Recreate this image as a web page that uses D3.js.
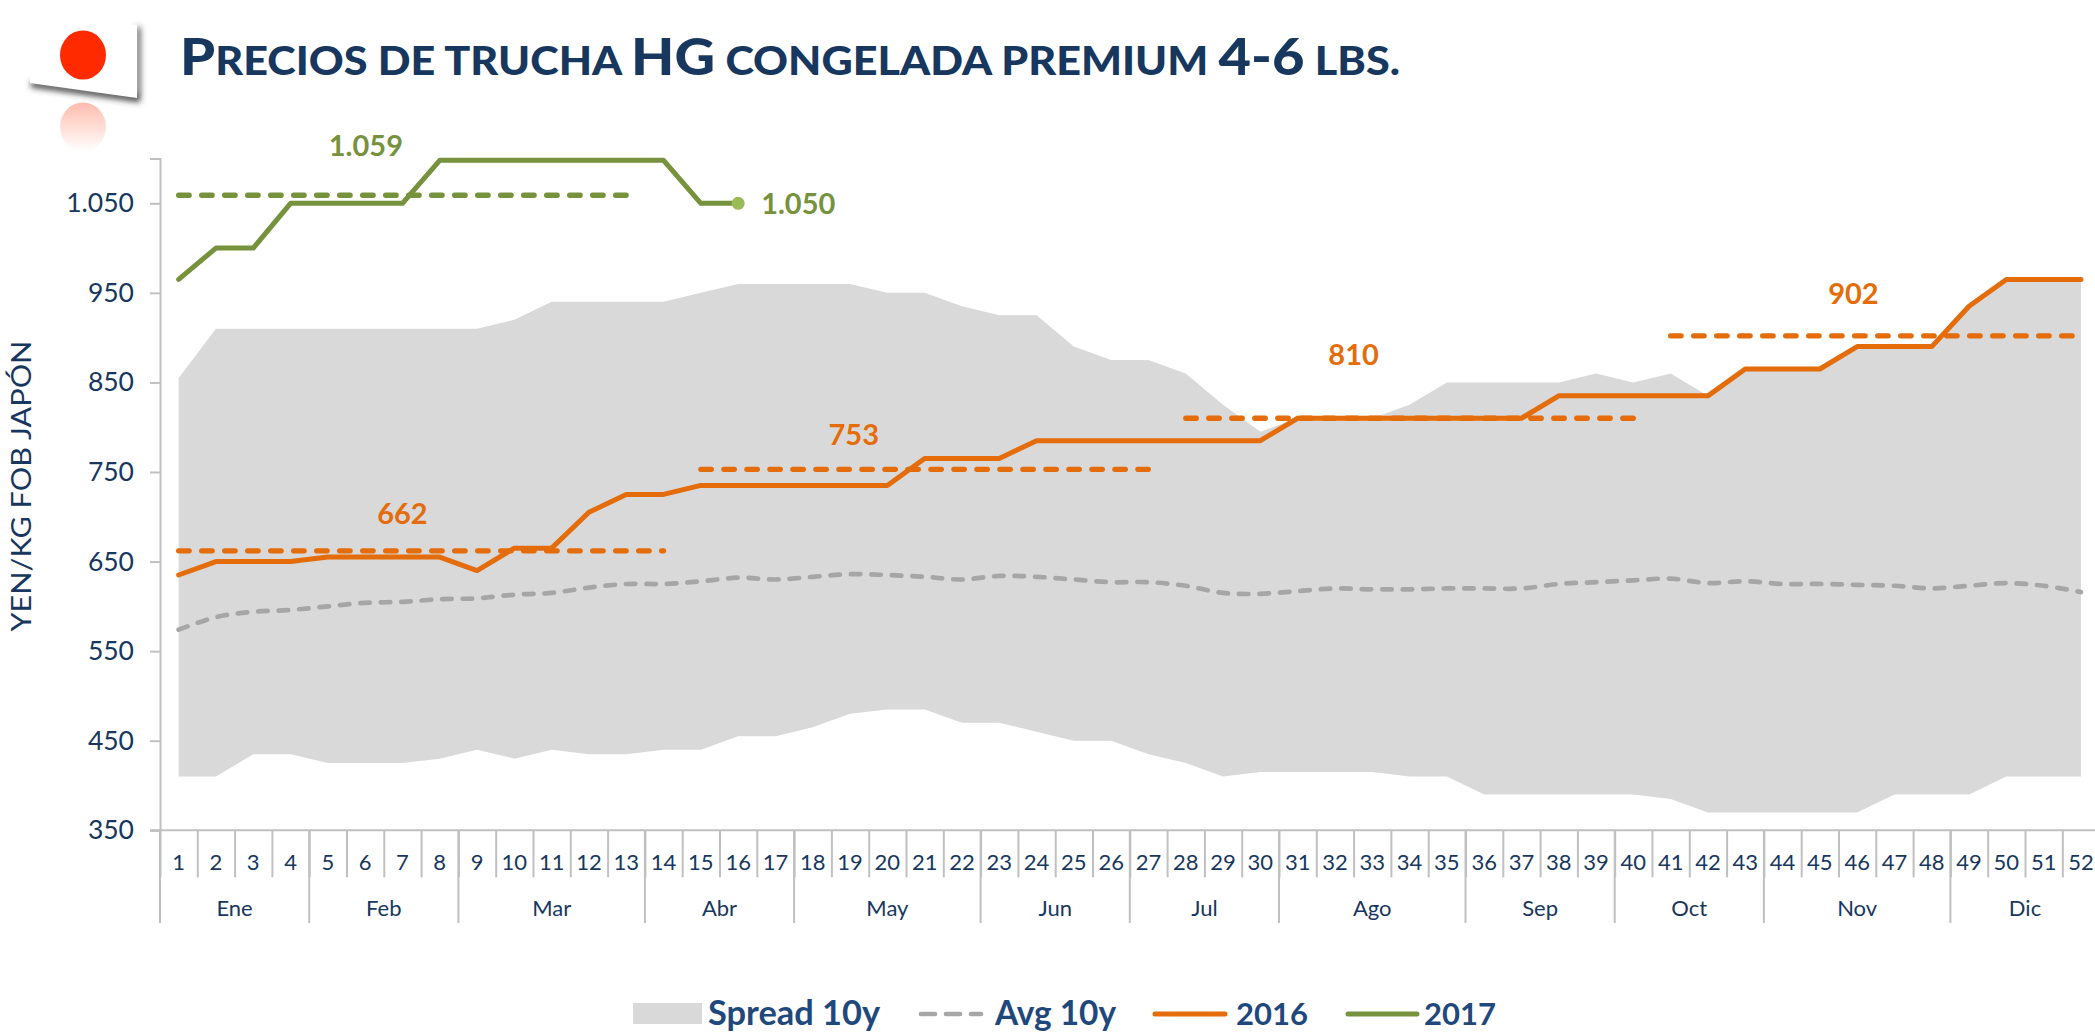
<!DOCTYPE html>
<html>
<head>
<meta charset="utf-8">
<script src="https://cdn.jsdelivr.net/npm/d3@7"></script>
<style>
  body { margin: 0; background: #fff; }
  svg { display: block; font-family: Lato, "Open Sans", sans-serif; }
  .domain, .tick line { stroke: #c0c0c0; stroke-width: 2; }
  .tick text { fill: #17375e; }
</style>
</head>
<body>
<svg id="chart" width="2095" height="1032"></svg>
<script>
// weeks and months
var weeks = d3.range(1, 53);
var months = ["Ene", "Feb", "Mar", "Abr", "May", "Jun", "Jul", "Ago", "Sep", "Oct", "Nov", "Dic"];
var monthWeeks = [4, 4, 5, 4, 5, 4, 4, 5, 4, 4, 5, 4];
var yTicks = [350, 450, 550, 650, 750, 850, 950, 1050];

// values
var spreadHigh = [855, 910, 910, 910, 910, 910, 910, 910, 910, 920, 940, 940, 940,
    940, 950, 960, 960, 960, 960, 950, 950, 935, 925, 925, 890, 875,
    875, 860, 825, 795, 810, 810, 810, 825, 850, 850, 850, 850, 860,
    850, 860, 835, 865, 865, 865, 890, 890, 890, 935, 965, 965, 965];
var spreadLow = [410, 410, 435, 435, 425, 425, 425, 430, 440, 430, 440, 435, 435,
    440, 440, 455, 455, 465, 480, 485, 485, 470, 470, 460, 450, 450,
    435, 425, 410, 415, 415, 415, 415, 410, 410, 390, 390, 390, 390,
    390, 385, 370, 370, 370, 370, 370, 390, 390, 390, 410, 410, 410];
var avg10y = [574, 588, 594, 596, 600, 604, 605, 608, 609, 613, 615, 621, 625,
    625, 628, 632, 630, 633, 636, 635, 633, 630, 634, 633, 630, 627,
    627, 623, 615, 614, 617, 620, 619, 619, 620, 620, 620, 625, 627,
    629, 631, 626, 628, 625, 625, 624, 623, 620, 623, 626, 623, 616];
var y2016 = [635, 650, 650, 650, 655, 655, 655, 655, 640, 665, 665, 705, 725,
    725, 735, 735, 735, 735, 735, 735, 765, 765, 765, 785, 785, 785,
    785, 785, 785, 785, 810, 810, 810, 810, 810, 810, 810, 835, 835,
    835, 835, 835, 865, 865, 865, 890, 890, 890, 935, 965, 965, 965];
var y2017 = [965, 1000, 1000, 1050, 1050, 1050, 1050, 1098, 1098, 1098, 1098, 1098, 1098, 1098, 1050, 1050];

// period averages: first week, last week, value
var avg2016 = [[1, 14, 662], [15, 27, 753], [28, 40, 810], [41, 52, 902]];
var avg2017 = [[1, 13, 1059]];

var titleParts = ["P", "RECIOS DE TRUCHA ", "HG", " CONGELADA PREMIUM ", "4-6", " LBS."];

var svg = d3.select("#chart");
var orange = "#e46c0a", green = "#76923c", navy = "#17375e", legendBlue = "#1f497d";

// edge scale is for the tick marks between the weeks, x puts points mid-week
var xEdge = d3.scaleLinear().domain([0, 52]).range([160, 2099.6]);
var x = function (w) { return xEdge(w - 0.5); };
var y = d3.scaleLinear().domain([350, 1100]).range([830.3, 158.5]);
var es = d3.formatLocale({ decimal: ",", thousands: ".", grouping: [3], currency: ["", ""] });
var fmt = es.format(",");

drawFlag();

// title, small caps done by hand so the small letters can be taller
var title = svg.append("text")
    .attr("x", 180).attr("y", 75)
    .attr("fill", navy)
    .attr("textLength", 1220).attr("lengthAdjust", "spacingAndGlyphs")
    .style("font-weight", 900)
    .style("white-space", "pre");
title.selectAll("tspan")
    .data(titleParts).enter().append("tspan")
    .style("font-size", function (d, i) { return i % 2 == 0 ? "52px" : "40px"; })
    .text(function (d) { return d; });

// spread band
var area = d3.area()
    .x(function (d) { return x(d); })
    .y0(function (d) { return y(spreadLow[d - 1]); })
    .y1(function (d) { return y(spreadHigh[d - 1]); });
svg.append("path").datum(weeks).attr("d", area).attr("fill", "#d9d9d9");

// axes
var yAxis = d3.axisLeft(y).tickValues(yTicks).tickSize(10).tickPadding(16).tickFormat(fmt);
var yG = svg.append("g").attr("transform", "translate(160,0)").call(yAxis);
yG.attr("font-family", null);
yG.selectAll("text").style("font-size", "26.5px");

var xAxis = d3.axisBottom(xEdge).tickValues(d3.range(0, 53)).tickSize(47).tickFormat("");
var xG = svg.append("g").attr("transform", "translate(0,830.3)").call(xAxis);
xG.select(".domain").attr("d", "M150,0H2095");

svg.append("g").selectAll("text")
    .data(weeks).enter().append("text")
    .attr("x", function (d) { return x(d); })
    .attr("y", 862)
    .attr("dy", ".35em")
    .attr("text-anchor", "middle")
    .attr("fill", navy)
    .style("font-size", "22px")
    .text(function (d) { return d; });

// month separators go lower than the week ones
var monthStarts = [0];
monthWeeks.forEach(function (n, i) { monthStarts.push(monthStarts[i] + n); });
svg.append("g").selectAll("line")
    .data(monthStarts.slice(0, 12)).enter().append("line")
    .attr("x1", function (d) { return xEdge(d); })
    .attr("x2", function (d) { return xEdge(d); })
    .attr("y1", 830).attr("y2", 923)
    .attr("stroke", "#c0c0c0").attr("stroke-width", 2);
svg.append("g").selectAll("text")
    .data(months).enter().append("text")
    .attr("x", function (d, i) { return xEdge(monthStarts[i] + monthWeeks[i] / 2); })
    .attr("y", 908)
    .attr("dy", ".35em")
    .attr("text-anchor", "middle")
    .attr("fill", navy)
    .style("font-size", "22px")
    .text(function (d) { return d; });

// axis title
svg.append("text")
    .attr("transform", "translate(31,486) rotate(-90)")
    .attr("text-anchor", "middle")
    .attr("fill", navy)
    .attr("textLength", 291).attr("lengthAdjust", "spacingAndGlyphs")
    .style("font-size", "27px")
    .text("YEN/KG FOB JAPÓN");

// avg 10y
var line = d3.line().x(function (d, i) { return x(i + 1); }).y(function (d) { return y(d); });
svg.append("path").datum(avg10y)
    .attr("d", line.curve(d3.curveCatmullRom.alpha(0.5)))
    .attr("fill", "none").attr("stroke", "#a6a6a6").attr("stroke-width", 4.7)
    .attr("stroke-linecap", "round").attr("stroke-dasharray", "9.5 11");
line.curve(d3.curveLinear);

// period averages
function drawAverages(rows, color) {
    svg.append("g").selectAll("line")
        .data(rows).enter().append("line")
        .attr("x1", function (d) { return x(d[0]); })
        .attr("x2", function (d) { return x(d[1]); })
        .attr("y1", function (d) { return y(d[2]); })
        .attr("y2", function (d) { return y(d[2]); })
        .attr("stroke", color).attr("stroke-width", 5.3)
        .attr("stroke-linecap", "round").attr("stroke-dasharray", "10.5 12.5");
}
drawAverages(avg2016, orange);
drawAverages(avg2017, green);

// the two years
[[y2016, orange], [y2017, green]].forEach(function (s) {
    svg.append("path").datum(s[0])
        .attr("d", line)
        .attr("fill", "none").attr("stroke", s[1]).attr("stroke-width", 5)
        .attr("stroke-linecap", "round").attr("stroke-linejoin", "round");
});
svg.append("circle")
    .attr("cx", x(y2017.length)).attr("cy", y(y2017[y2017.length - 1]))
    .attr("r", 6.5).attr("fill", "#9bbb59");

// value labels, placed a bit above their dashed lines
var labelWeeks = [7, 19.1, 32.5, 45.9, 6.02];
var labelRows = avg2016.concat(avg2017);
var labelLift = [37, 34, 63, 42, 49];
var labelColors = [orange, orange, orange, orange, green];
svg.append("g").selectAll("text")
    .data(labelRows).enter().append("text")
    .attr("x", function (d, i) { return x(labelWeeks[i]); })
    .attr("y", function (d, i) { return y(d[2]) - labelLift[i]; })
    .attr("dy", ".35em")
    .attr("text-anchor", "middle")
    .attr("fill", function (d, i) { return labelColors[i]; })
    .style("font-size", "29px").style("font-weight", 700)
    .text(function (d) { return fmt(d[2]); });
svg.append("text")
    .attr("x", x(y2017.length) + 23).attr("y", y(y2017[y2017.length - 1]) + 1)
    .attr("dy", ".35em")
    .attr("fill", green)
    .style("font-size", "29px").style("font-weight", 700)
    .text(fmt(y2017[y2017.length - 1]));

// legend
var legend = svg.append("g").attr("fill", legendBlue).style("font-weight", 700);
legend.append("rect").attr("x", 633).attr("y", 1003).attr("width", 69).attr("height", 21).attr("fill", "#d9d9d9");
legend.append("text").attr("x", 708).attr("y", 1025).style("font-size", "34.4px").text("Spread 10y");
legend.append("line").attr("x1", 921).attr("x2", 981).attr("y1", 1014).attr("y2", 1014)
    .attr("stroke", "#a6a6a6").attr("stroke-width", 4.7).attr("stroke-linecap", "round")
    .attr("stroke-dasharray", "14 11");
legend.append("text").attr("x", 995).attr("y", 1025).style("font-size", "33.4px").text("Avg 10y");
legend.append("line").attr("x1", 1155).attr("x2", 1225).attr("y1", 1014).attr("y2", 1014)
    .attr("stroke", orange).attr("stroke-width", 5).attr("stroke-linecap", "round");
legend.append("text").attr("x", 1236).attr("y", 1025).style("font-size", "31px").text("2016");
legend.append("line").attr("x1", 1348).attr("x2", 1417).attr("y1", 1014).attr("y2", 1014)
    .attr("stroke", green).attr("stroke-width", 5).attr("stroke-linecap", "round");
legend.append("text").attr("x", 1424).attr("y", 1025).style("font-size", "31px").text("2017");

// little japanese flag in the corner, tilted with a reflection under it
function drawFlag() {
    var defs = svg.append("defs");
    defs.append("filter").attr("id", "soft")
        .attr("x", "-20%").attr("y", "-20%").attr("width", "140%").attr("height", "140%")
        .append("feGaussianBlur").attr("stdDeviation", 3);
    var grad = defs.append("linearGradient").attr("id", "fade")
        .attr("x1", 0).attr("y1", 0).attr("x2", 0).attr("y2", 1);
    grad.append("stop").attr("offset", 0).attr("stop-color", "#ff2a00").attr("stop-opacity", 0.32);
    grad.append("stop").attr("offset", 1).attr("stop-color", "#ff2a00").attr("stop-opacity", 0);

    var f = svg.append("g");
    f.append("polygon").attr("points", "31,87 140,102 140,27 136,27 136,95 31,81")
        .attr("fill", "#333").attr("filter", "url(#soft)");
    f.append("polygon").attr("points", "30,10 137,25 137,98 30,83").attr("fill", "#fff");
    f.append("ellipse").attr("cx", 83).attr("cy", 55).attr("rx", 23).attr("ry", 24.5).attr("fill", "#ff2a00");
    f.append("ellipse").attr("cx", 83).attr("cy", 127).attr("rx", 23).attr("ry", 24.5).attr("fill", "url(#fade)");
}
</script>
</body>
</html>
